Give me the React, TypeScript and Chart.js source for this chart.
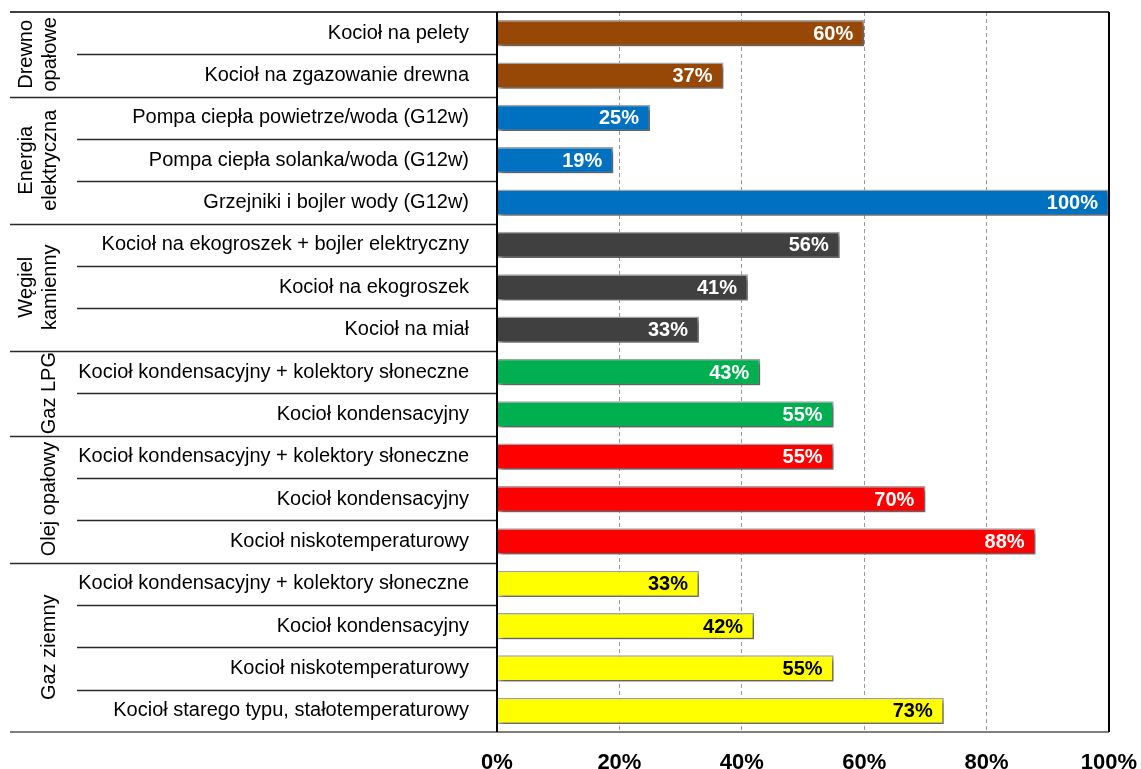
import React, { useEffect, useRef } from 'react';
import { Chart, registerables } from 'chart.js';

Chart.register(...registerables);

const categories = [
  'Kocioł na pelety',
  'Kocioł na zgazowanie drewna',
  'Pompa ciepła powietrze/woda (G12w)',
  'Pompa ciepła solanka/woda (G12w)',
  'Grzejniki i bojler wody (G12w)',
  'Kocioł na ekogroszek + bojler elektryczny',
  'Kocioł na ekogroszek',
  'Kocioł na miał',
  'Kocioł kondensacyjny + kolektory słoneczne',
  'Kocioł kondensacyjny',
  'Kocioł kondensacyjny + kolektory słoneczne',
  'Kocioł kondensacyjny',
  'Kocioł niskotemperaturowy',
  'Kocioł kondensacyjny + kolektory słoneczne',
  'Kocioł kondensacyjny',
  'Kocioł niskotemperaturowy',
  'Kocioł starego typu, stałotemperaturowy',
];

const values = [60, 37, 25, 19, 100, 56, 41, 33, 43, 55, 55, 70, 88, 33, 42, 55, 73];

const groupNames = [
  ['Drewno', 'opałowe'],
  ['Energia', 'elektryczna'],
  ['Węgiel', 'kamienny'],
  ['Gaz LPG'],
  ['Olej opałowy'],
  ['Gaz ziemny'],
];
const groupSizes = [2, 3, 3, 2, 3, 4];
const groupColors = ['#974806', '#0070C0', '#404040', '#00B050', '#FF0000', '#FFFF00'];
const groupTextColors = ['#FFFFFF', '#FFFFFF', '#FFFFFF', '#FFFFFF', '#FFFFFF', '#000000'];

const xTicks = [0, 20, 40, 60, 80, 100];

const FONT = "'Liberation Sans', Arial, Helvetica, sans-serif";

const rowGroup: number[] = [];
groupSizes.forEach((n, g) => {
  for (let k = 0; k < n; k++) rowGroup.push(g);
});
const barColors = rowGroup.map((g) => groupColors[g]);

function zeroPad(scale: any) {
  scale.paddingTop = 0;
  scale.paddingBottom = 0;
  scale.paddingLeft = 0;
  scale.paddingRight = 0;
}

export default function App() {
  const canvasRef = useRef<HTMLCanvasElement | null>(null);

  useEffect(() => {
    const canvas = canvasRef.current;
    if (!canvas) return;

    const shadowPlugin = {
      id: 'barShadow',
      beforeDatasetsDraw(chart: any) {
        const ctx = chart.ctx;
        ctx.save();
        ctx.shadowColor = 'rgba(0,0,0,0.45)';
        ctx.shadowOffsetX = 3;
        ctx.shadowOffsetY = 3;
        ctx.shadowBlur = 4;
      },
      afterDatasetsDraw(chart: any) {
        const ctx = chart.ctx;
        ctx.restore();
        const meta = chart.getDatasetMeta(0);
        ctx.save();
        ctx.font = `bold 20px ${FONT}`;
        ctx.textAlign = 'right';
        ctx.textBaseline = 'middle';
        meta.data.forEach((el: any, i: number) => {
          ctx.fillStyle = groupTextColors[rowGroup[i]];
          ctx.fillText(values[i] + '%', el.x - 11, el.y + 1);
        });
        ctx.restore();
      },
    };

    const framePlugin = {
      id: 'frameAndGroups',
      afterDraw(chart: any) {
        const ctx = chart.ctx;
        const area = chart.chartArea;
        const yScale = chart.scales.y;
        const n = categories.length;
        const half = (yScale.getPixelForValue(1) - yScale.getPixelForValue(0)) / 2;
        ctx.save();
        ctx.setLineDash([]);
        const groupStarts: number[] = [];
        let acc = 0;
        groupSizes.forEach((s) => {
          groupStarts.push(acc);
          acc += s;
        });
        ctx.strokeStyle = '#2a2a2a';
        ctx.lineWidth = 1.5;
        for (let i = 1; i < n; i++) {
          const y = Math.round(yScale.getPixelForValue(i) - half) + 0.5;
          const isGroup = groupStarts.includes(i);
          ctx.beginPath();
          ctx.moveTo(isGroup ? 10 : 77, y);
          ctx.lineTo(area.left, y);
          ctx.stroke();
        }
        ctx.strokeStyle = '#000000';
        ctx.lineWidth = 1.5;
        ctx.beginPath();
        ctx.moveTo(10, area.top);
        ctx.lineTo(area.right, area.top);
        ctx.stroke();
        ctx.strokeStyle = '#555555';
        ctx.beginPath();
        ctx.moveTo(10, area.bottom);
        ctx.lineTo(area.right, area.bottom);
        ctx.stroke();
        ctx.strokeStyle = '#000000';
        ctx.lineWidth = 2;
        ctx.beginPath();
        ctx.moveTo(area.left, area.top);
        ctx.lineTo(area.left, area.bottom);
        ctx.moveTo(area.right, area.top);
        ctx.lineTo(area.right, area.bottom);
        ctx.stroke();
        ctx.fillStyle = '#000000';
        ctx.font = `20px ${FONT}`;
        ctx.textAlign = 'center';
        ctx.textBaseline = 'middle';
        groupNames.forEach((lines, g) => {
          const first = groupStarts[g];
          const last = first + groupSizes[g] - 1;
          const yc = (yScale.getPixelForValue(first) + yScale.getPixelForValue(last)) / 2;
          const xs = lines.length === 2 ? [26, 50] : [49];
          lines.forEach((t, k) => {
            ctx.save();
            ctx.translate(xs[k], yc);
            ctx.rotate(-Math.PI / 2);
            ctx.fillText(t, 0, 0);
            ctx.restore();
          });
        });
        ctx.restore();
      },
    };

    const chart = new Chart(canvas, {
      type: 'bar',
      data: {
        labels: categories,
        datasets: [
          {
            data: values,
            backgroundColor: barColors,
            borderColor: '#a6a6a6',
            borderWidth: 1.5,
            borderSkipped: 'start',
            barPercentage: 0.62,
            categoryPercentage: 1,
          },
        ],
      },
      options: {
        indexAxis: 'y',
        animation: false,
        responsive: true,
        maintainAspectRatio: false,
        layout: { padding: { left: 0, top: 12, right: 32, bottom: 0 } },
        plugins: {
          legend: { display: false },
          tooltip: { enabled: false },
          title: { display: false },
        },
        scales: {
          x: {
            min: 0,
            max: 100,
            afterBuildTicks: (scale: any) => {
              scale.ticks = xTicks.map((v) => ({ value: v }));
            },
            afterFit: (scale: any) => {
              scale.height = 37;
              zeroPad(scale);
            },
            ticks: {
              callback: (v: any) => v + '%',
              font: { family: FONT, size: 22, weight: 'bold' },
              color: '#000000',
              padding: 18,
              maxRotation: 0,
            },
            grid: {
              color: '#9a9a9a',
              lineWidth: 1,
              drawTicks: false,
            },
            border: { display: false, dash: [4, 3] },
          },
          y: {
            afterFit: (scale: any) => {
              scale.width = 497;
              zeroPad(scale);
            },
            ticks: {
              autoSkip: false,
              font: { family: FONT, size: 20 },
              color: '#000000',
              padding: 20,
            },
            grid: { display: false },
            border: { display: false },
          },
        },
      },
      plugins: [shadowPlugin, framePlugin],
    } as any);

    return () => {
      chart.destroy();
    };
  }, []);

  return (
    <div style={{ position: 'absolute', left: 0, top: 0, width: 1141, height: 769, background: '#ffffff' }}>
      <canvas ref={canvasRef} />
    </div>
  );
}
